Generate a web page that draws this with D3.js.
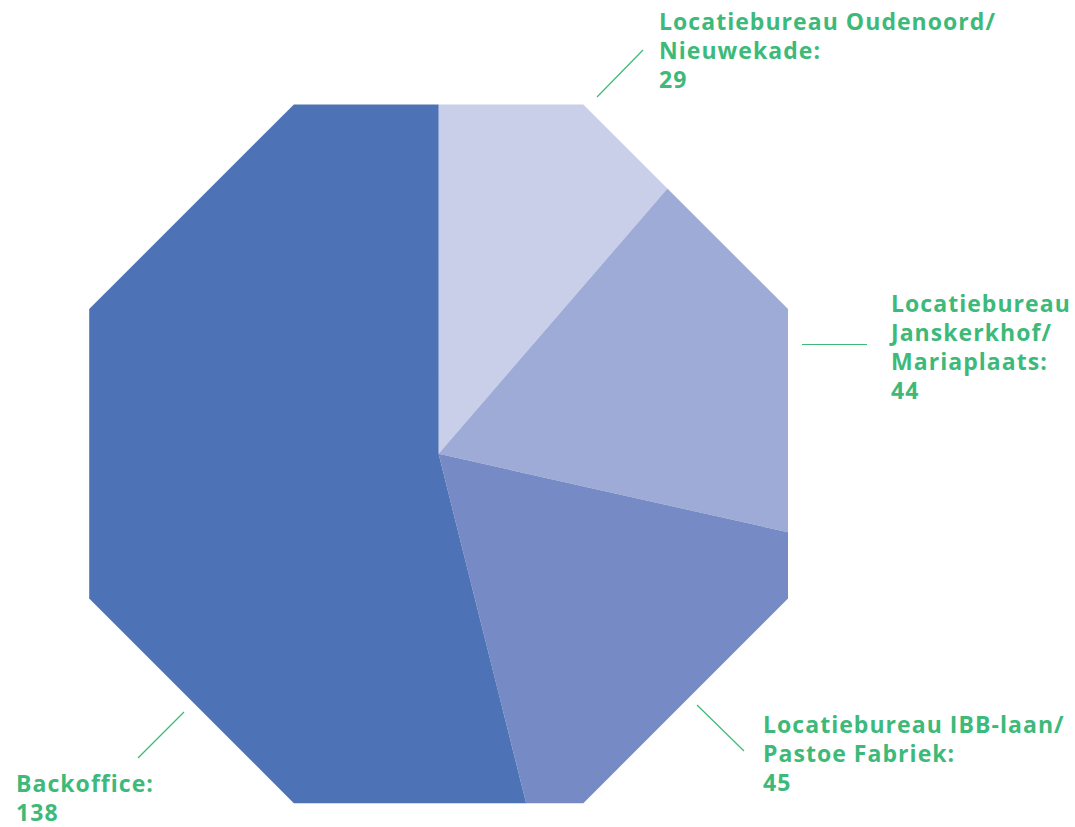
<!DOCTYPE html>
<html><head><meta charset="utf-8">
<script src="https://cdn.jsdelivr.net/npm/d3@7"></script>
<style>html,body{margin:0;padding:0;background:#fff;}svg{display:block;}</style>
</head><body>
<svg id="chart" width="1075" height="827"></svg>
<script>
const categories = ["Locatiebureau Oudenoord/ Nieuwekade", "Locatiebureau Janskerkhof/ Mariaplaats", "Locatiebureau IBB-laan/ Pastoe Fabriek", "Backoffice"];
const values = [29, 44, 45, 138];
const labelLines = [
  ["Locatiebureau Oudenoord/", "Nieuwekade:", "29"],
  ["Locatiebureau", "Janskerkhof/", "Mariaplaats:", "44"],
  ["Locatiebureau IBB-laan/", "Pastoe Fabriek:", "45"],
  ["Backoffice:", "138"]
];
const colors = ["#C9CEE9", "#9EABD7", "#768BC5", "#4E72B6"];

const svg = d3.select("#chart");
const cx = 438.6, cy = 453.8, apothem = 349.4;
const green = "#3DB979";

// octagon clip
const circR = apothem / Math.cos(Math.PI / 8);
const octPts = d3.range(8).map(k => {
  const a = Math.PI / 8 + k * Math.PI / 4;
  return [cx + circR * Math.cos(a), cy + circR * Math.sin(a)];
});
svg.append("defs").append("clipPath").attr("id", "oct")
  .append("polygon").attr("points", octPts.map(p => p.join(",")).join(" "));

const pie = d3.pie().sort(null).value(d => d)(values);
const arc = d3.arc().innerRadius(0).outerRadius(600);
svg.append("g").attr("clip-path", "url(#oct)")
  .append("g").attr("transform", `translate(${cx},${cy})`)
  .selectAll("path").data(pie).join("path")
  .attr("d", arc).attr("fill", (d, i) => colors[i]).attr("stroke", "none");

// annotations (label anchor + leader line)
const annos = [
  {x: 659, y: 30, line: [[597, 97], [643, 50]]},
  {x: 891, y: 312, line: [[802, 344.5], [867, 344.5]]},
  {x: 763, y: 733, line: [[697, 705], [744, 751]]},
  {x: 16, y: 792, line: [[184, 712], [138, 758]]}
];
const lh = 29;
const fontFamily = "'Open Sans', Lato, sans-serif";
const fontSize = 23;

// fit letter-spacing so the widest line matches the reference width
const probe = svg.append("text").attr("font-family", fontFamily).attr("font-weight", 700)
  .attr("font-size", fontSize).text(labelLines[0][0]);
const w0 = probe.node().getComputedTextLength();
probe.remove();
const ls = Math.max(-1, Math.min(3, (337 - w0) / labelLines[0][0].length));

annos.forEach((a, i) => {
  svg.append("line")
    .attr("x1", a.line[0][0]).attr("y1", a.line[0][1])
    .attr("x2", a.line[1][0]).attr("y2", a.line[1][1])
    .attr("stroke", green).attr("stroke-width", 1.2);
  const t = svg.append("text").attr("x", a.x).attr("y", a.y)
    .attr("fill", green).attr("font-family", fontFamily)
    .attr("font-weight", 700).attr("font-size", fontSize)
    .attr("letter-spacing", ls);
  labelLines[i].forEach((s, j) => {
    t.append("tspan").attr("x", a.x).attr("y", a.y + j * lh).text(s);
  });
});
</script>
</body></html>
